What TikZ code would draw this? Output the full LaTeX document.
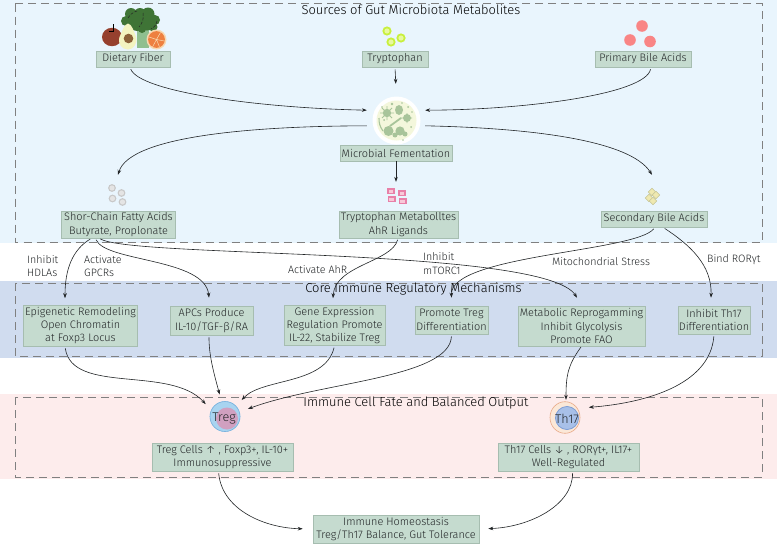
\documentclass[tikz,border=0pt]{standalone}
\usepackage{fontspec}
\setmainfont{Fira Sans}[UprightFont=* Light]
\usetikzlibrary{arrows.meta}
\definecolor{topband}{HTML}{E9F5FD}
\definecolor{midband}{HTML}{D0DCEF}
\definecolor{lowband}{HTML}{FDECEC}
\definecolor{boxfill}{HTML}{C5DBCF}
\definecolor{boxline}{HTML}{A6BDB0}
\definecolor{ink}{HTML}{222527}
\definecolor{leaf}{HTML}{3F7436}
\definecolor{germ}{HTML}{A8C49A}
\definecolor{dishfill}{HTML}{F4F7DC}
\definecolor{applered}{HTML}{96402E}
\definecolor{avoflesh}{HTML}{F3F4C0}
\definecolor{avopit}{HTML}{8C6238}
\definecolor{stemgreen}{HTML}{8FBF8F}
\definecolor{peel}{HTML}{F8D8B0}
\definecolor{pulp}{HTML}{EE8040}
\definecolor{lime}{HTML}{C8F03C}
\definecolor{limein}{HTML}{E8F8A0}
\definecolor{coral}{HTML}{F98585}
\definecolor{pinkedge}{HTML}{E880A8}
\definecolor{pinkin}{HTML}{F8C8D8}
\definecolor{chalk}{HTML}{C8C8C8}
\definecolor{chalkin}{HTML}{E4E4E4}
\definecolor{sandfill}{HTML}{EFE9B0}
\definecolor{sandedge}{HTML}{C4C498}
\definecolor{tregouter}{HTML}{A8D4F0}
\definecolor{tregrim}{HTML}{78B0DC}
\definecolor{treginner}{HTML}{D0A0C0}
\definecolor{thouter}{HTML}{FBE8D8}
\definecolor{thrim}{HTML}{E8A888}
\definecolor{thinner}{HTML}{A8C0E8}
\definecolor{thedge}{HTML}{7C9CD4}
\tikzset{
  x=1pt,y=-1pt,
  band/.style={fill=#1,draw=none},
  frame/.style={draw=black!50,line width=0.6pt,dash pattern=on 8pt off 5pt},
  title/.style={font=\fontsize{12.9}{14}\selectfont,text=black,inner sep=0pt},
  label/.style={font=\fontsize{10.7}{13.6}\selectfont,text=ink,inner sep=0pt,align=left,anchor=west},
  stage/.style={draw=boxline,fill=boxfill,line width=0.6pt,inner sep=0pt,align=center,
    text=ink,font=\fontsize{10.9}{13.4}\selectfont},
  cellname/.style={font=\fontsize{12.6}{14}\selectfont,text=ink,inner sep=0pt},
  spot/.style={inner sep=0pt,draw=none},
  link/.style={draw=ink,line width=0.6pt,-{Stealth[length=5pt,width=3.6pt]}},
}
\newcommand{\stagebox}[6]{%
  \node[stage,minimum width=#4,minimum height=#5] (#1) at (#2,#3) {#6};}
\begin{document}
\begin{tikzpicture}
\useasboundingbox (0,0) rectangle (777,546);
% backgrounds of the three sections
\fill[band=white] (0,0) rectangle (777,546);
\fill[band=topband] (0,0) rectangle (777,243);
\fill[band=midband] (0,281) rectangle (777,358);
\fill[band=lowband] (0,394) rectangle (777,479);
\draw[frame] (15,3.5) rectangle (762,242);
\draw[frame] (15,283) rectangle (762,356);
\draw[frame] (15,397) rectangle (762,477);
% section titles
\node[title] (titleA) at (411,10) {Sources of Gut Microbiota Metabolites};
\node[title] (titleB) at (413.5,289) {Core Immune Regulatory Mechanisms};
\node[title] (titleC) at (416,403) {Immune Cell Fate and Balanced Output};

% food group
\fill[stemgreen] (137,30) rectangle (149,48);
\fill[leaf] (126,21) circle (5) (131,14) circle (6) (140,14) circle (6) (148,14) circle (6.5)
  (155,20) circle (5) (153,27) circle (4.5) (137,23) circle (8) (147,23) circle (7.5) (142,29) circle (4) (130,26) circle (5);
\draw[black!85,line width=0.5pt,dash pattern=on 3pt off 1.5pt] (128,18) to[bend left=20] (137,11);
\draw[black!85,line width=0.5pt,dash pattern=on 3pt off 1.5pt] (143,13) to[bend left=25] (139,27);
\draw[black!85,line width=0.5pt,dash pattern=on 3pt off 1.5pt] (157,21) to[bend left=25] (151,29);
\fill[applered] (112,37) ellipse (10 and 9.2);
\draw[black,line width=0.6pt] (113,31) -- (113,24) (109,31.5) -- (114,31.5);
\fill[avoflesh] (128,23.5) .. controls (132,24) and (134,32) .. (136,37)
  .. controls (138,44) and (133,49.5) .. (128,49.5) .. controls (122,49.5) and (117.5,44) .. (119.5,37)
  .. controls (122,32) and (124,24) .. (128,23.5) -- cycle;
\fill[avopit] (128.5,38.5) circle (4.8);
\fill[peel] (156.5,39.5) circle (10);
\fill[pulp] (156.5,39.5) circle (8.4);
\draw[peel,line width=0.5pt] (156.5,39.5) -- (149,37) (156.5,39.5) -- (160.5,32.5)
  (156.5,39.5) -- (164.5,41) (156.5,39.5) -- (152.5,47) (156.5,39.5) -- (159.5,47);

% tryptophan beads
\foreach \px/\py in {387/31,401/38,391/42}{
  \fill[lime] (\px,\py) circle (4.6);
  \fill[limein] (\px,\py) circle (2.6);
}
% primary bile acid beads
\fill[coral] (642,26) circle (5.8) (630,40) circle (5.8) (650,41.5) circle (5.8);

% microbe dish
\fill[white] (396.5,120.5) circle (24);
\fill[dishfill] (396.5,120.5) circle (20);
\fill[germ] (387,113) circle (4.2) (399,110) ellipse (4 and 5) (407,118) circle (4)
  (388.5,131) circle (5) (400,131) circle (4.6) (405,134) circle (2.5) (395,135) circle (2.5)
  (392,104) circle (1.3) (402,103) circle (0.9) (384,120) circle (1) (411,127) circle (1)
  (408,107) circle (1) (382,107) circle (0.9) (403,140) circle (0.9) (412,112) circle (0.9);
\draw[germ,line width=0.9pt] (380,113) -- (394,113) (387,106) -- (387,120) (382,108) -- (392,118) (382,118) -- (392,108)
  (402,118) -- (412,118) (407,113) -- (407,123);
\draw[germ,line width=1.8pt,line cap=round] (390,126) -- (401,118);
\draw[germ,line width=1.1pt] (379,118) to[bend right=18] (383,131);

% metabolite clusters
\foreach \px/\py in {112/188,121.5/193,112.5/198.5,122.5/202}{
  \fill[chalk] (\px,\py) circle (3.9);
  \fill[chalkin] (\px,\py) circle (2.6);
}
\foreach \px/\py in {391/191,391.5/199,402/193,402.5/201}{
  \fill[pinkedge] (\px-4,\py-3) rectangle (\px+4,\py+3);
  \fill[pinkin] (\px-2.4,\py-1.5) rectangle (\px+2.4,\py+1.5);
}
\foreach \px/\py in {652/192,656/195,649/198,653/201}{
  \draw[fill=sandfill,draw=sandedge,line width=0.6pt]
    (\px-3.8,\py) -- (\px,\py-3.8) -- (\px+3.8,\py) -- (\px,\py+3.8) -- cycle;
}

% cell drawings
\node[spot,circle,minimum size=48pt] (tregcell) at (225.5,418) {};
\fill[tregouter] (225,416.5) circle (15.3);
\draw[tregrim,line width=0.6pt] (225,416.5) circle (15);
\fill[treginner] (227,418.5) circle (11);
\node[cellname] (tregname) at (224,418.5) {Treg};
\node[spot,circle,minimum size=50pt] (thcell) at (566,418) {};
\fill[thouter] (565,417.5) ellipse (15.2 and 16);
\draw[thrim,line width=0.6pt] (565,417.5) ellipse (15 and 15.8);
\fill[thinner] (567,418) circle (11.8);
\draw[thedge,line width=0.7pt] (567,418) circle (11.5);
\node[cellname] (thname) at (567,418.5) {Th17};

% invisible anchors around the drawn icons
\node[spot,circle,minimum size=60pt] (microbe) at (396,118) {};
\node[spot,minimum width=20pt,minimum height=40pt] (scfaicon) at (118,195) {};
\node[spot,minimum width=20pt,minimum height=26pt] (trpicon) at (396,195) {};
\node[spot,minimum width=20pt,minimum height=42pt] (bileicon) at (652,196) {};

% stage boxes
\stagebox{dietary}{133}{59}{74pt}{16pt}{Dietary Fiber}
\stagebox{trp}{395}{59}{66pt}{16pt}{Tryptophan}
\stagebox{primary}{643}{59}{96pt}{16pt}{Primary Bile Acids}
\stagebox{ferment}{396}{153}{112pt}{16pt}{Microbial Fementation}
\stagebox{scfa}{118.5}{224.5}{114pt}{27pt}{Shor-Chain Fatty Acids\\Butyrate, Proplonate}
\stagebox{metab}{398.5}{224.5}{119pt}{27pt}{Tryptophan Metabolltes\\AhR Ligands}
\stagebox{second}{654}{219}{106pt}{16pt}{Secondary Bile Acids}
\stagebox{epi}{80.5}{325.5}{114pt}{41pt}{Epigenetic Remodeling\\Open Chromatin\\at Foxp3 Locus}
\stagebox{apc}{211.5}{320.5}{83pt}{29pt}{APCs Produce\\IL-10/TGF-β/RA}
\stagebox{gene}{334.5}{325.5}{101pt}{40pt}{Gene Expression\\Regulation Promote\\IL-22, Stabilize Treg}
\stagebox{promote}{451.5}{320}{73pt}{28pt}{Promote Treg\\Differentiation}
\stagebox{meta}{581.5}{326}{127pt}{40pt}{Metabolic Reprogamming\\Inhibit Glycolysis\\Promote FAO}
\stagebox{inhib}{714}{320}{72pt}{28pt}{Inhibit Th17\\Differentiation}
\stagebox{tregout}{222.5}{457}{141pt}{28pt}{Treg Cells ↑ , Foxp3+, IL-10+\\Immunosuppressive}
\stagebox{thout}{568.5}{457}{141pt}{28pt}{Th17 Cells ↓ , RORγt+, IL17+\\Well-Regulated}
\stagebox{homeo}{396}{529}{166pt}{28pt}{Immune Homeostasis\\Treg/Th17 Balance, Gut Tolerance}

% connector labels
\node[label] (lab1) at (27,266) {Inhibit\\HDLAs};
\node[label] (lab2) at (84,266) {Activate\\GPCRs};
\node[label] (lab3) at (288,270) {Activate AhR};
\node[label] (lab4) at (423,263.5) {Inhibit\\mTORC1};
\node[label] (lab5) at (552,262) {Mitochondrial Stress};
\node[label] (lab6) at (707,260) {Bind RORγt};

% metabolism flows
\draw[link,shorten <=2pt] ([xshift=-3pt]dietary.south) .. controls (140,92) and (260,108) .. (microbe.165);
\draw[link,shorten <=2pt,shorten >=4pt] (trp.south) -- (microbe.north);
\draw[link,shorten <=2pt] ([xshift=8pt]primary.south) .. controls (645,95) and (520,110) .. (microbe.15);
\draw[link] (microbe.195) .. controls (260,126) and (130,135) .. (scfaicon.north);
\draw[link] (ferment.south) -- (trpicon.north);
\draw[link] (microbe.-15) .. controls (530,128) and (630,140) .. (bileicon.north);

% regulatory routes
\draw[link,shorten <=1.5pt] ([xshift=-27pt]scfa.south) .. controls (72,250) and (65,270) .. ([xshift=-15.5pt,yshift=6.5pt]epi.north);
\draw[link,shorten <=1.5pt] ([xshift=-23pt]scfa.south) .. controls (105,262) and (205,258) .. ([xshift=-2.5pt,yshift=8pt]apc.north);
\draw[link,shorten <=1pt] ([xshift=-19pt]scfa.south) .. controls (130,258) and (545,247) .. ([xshift=-4.5pt,yshift=8pt]meta.north);
\draw[link,shorten <=1.5pt] ([xshift=-0.5pt]metab.south) .. controls (392,262) and (335,265) .. ([xshift=-1.5pt,yshift=7pt]gene.north);
\draw[link,shorten <=2pt] ([xshift=1pt]second.south) .. controls (635,252) and (450,255) .. ([yshift=8pt]promote.north);
\draw[link,shorten <=2pt] ([xshift=9pt]second.south) .. controls (690,245) and (712,265) .. ([xshift=-3pt,yshift=8pt]inhib.north);

% routes into the cell fates
\draw[link,shorten <=2pt] ([xshift=-15.5pt]epi.south) .. controls (72,395) and (170,365) .. (tregcell.145);
\draw[link,shorten <=2pt] ([xshift=-2.5pt]apc.south) .. controls (209,355) and (213,370) .. (tregcell.104);
\draw[link,shorten <=2pt] (gene.south) .. controls (325,385) and (262,378) .. (tregcell.48);
\draw[link,shorten <=2pt] (promote.south) .. controls (450,378) and (320,382) .. (tregcell.22);
\draw[link,shorten <=1pt] (meta.south) .. controls (568,365) and (566,375) .. ([yshift=-7pt]thcell.north);
\draw[link,shorten <=2pt] (inhib.south) .. controls (710,385) and (645,403) .. (thcell.25);
\draw[link,shorten <=2pt,shorten >=10pt] ([xshift=-4pt]tregout.south) .. controls (222,510) and (265,528) .. (homeo.west);
\draw[link,shorten <=2pt,shorten >=9pt] ([xshift=4pt]thout.south) .. controls (573,505) and (530,527) .. (homeo.east);
\end{tikzpicture}
\end{document}
